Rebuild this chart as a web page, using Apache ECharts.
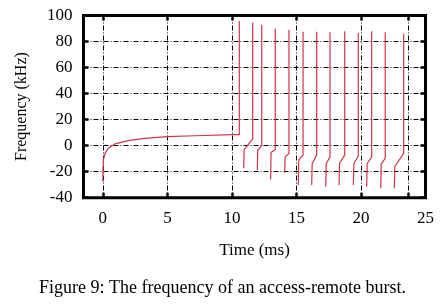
<!DOCTYPE html>
<html>
<head>
<meta charset="utf-8">
<script src="https://cdn.jsdelivr.net/npm/echarts@6/dist/echarts.min.js"></script>
<style>
  html, body { margin: 0; padding: 0; background: #fff; }
  #chart { width: 445px; height: 305px; }
</style>
</head>
<body>
<div id="chart"></div>
<script>
// initial ramp before the burst starts
const rampTime = [0, 0.01, 0.04, 0.17, 0.42, 0.94, 1.97, 3.26, 4.99, 7.14, 10.11, 10.57];
const rampFreq = [-27.7, -18.7, -11, -5.9, -2, 1.3, 3.8, 5.6, 6.9, 7.6, 8.4, 8.5];

// spikes of the burst
const spikeTime = [10.57, 11.61, 12.31, 13.36, 14.42, 15.51, 16.57, 17.6, 18.74, 19.79, 20.83, 21.88, 23.31];
const spikeBase = [8.5, 5.2, 0, -3, -6, -7.3, -7.3, -8.6, -7.3, -8, -8.6, -9.8, -6];
const spikePeak = [95.8, 94.5, 92.9, 89.9, 88.9, 87.6, 87.6, 87.1, 87.9, 86.6, 87.9, 87.1, 86];

// where each segment restarts after a spike, and where it bends
const resetTime = [10.91, 11.97, 13.0, 14.09, 15.14, 16.18, 17.27, 18.3, 19.41, 20.44, 21.53, 22.58];
const resetFreq = [-17.4, -18.7, -25.9, -20.8, -30.2, -30.2, -31.5, -30.2, -30.2, -31.5, -32.8, -32.8];
const kneeTime = [10.95, 12.0, 13.03, 14.12, 15.18, 16.22, 17.31, 18.34, 19.45, 20.48, 21.57, 22.62];
const kneeFreq = [-3, -3.5, -5.3, -8.6, -11, -13.7, -13.7, -13.5, -13.7, -13.7, -14, -16];

const xTicks = [0, 5, 10, 15, 20, 23.7, 25];
const xLabels = [0, 5, 10, 15, 20, 25];

let data = rampTime.map((t, i) => [t, rampFreq[i]]);
spikeTime.forEach((t, i) => {
  if (i > 0) data.push([t, spikeBase[i]]);
  data.push([t, spikePeak[i]]);
  data.push([t, '-']);
  if (i < resetTime.length) {
    data.push([resetTime[i], resetFreq[i]]);
    data.push([kneeTime[i], kneeFreq[i]]);
  }
});

const font = 'Liberation Serif';
const gridDash = { color: '#000', width: 1, type: [5, 2, 1, 2] };
const tick = { show: true, inside: true, length: 5, lineStyle: { color: '#000', width: 2.5 } };
const noLine = { show: false, onZero: false };

let myChart = echarts.init(document.getElementById('chart'));
myChart.setOption({
  animation: false,
  backgroundColor: '#fff',
  grid: {
    left: 83.5, top: 15.5, right: 19.5, bottom: 107.3,
    show: true, borderColor: '#000', borderWidth: 3
  },
  xAxis: [
    {
      type: 'value', min: -1.5, max: 25,
      name: 'Time (ms)', nameLocation: 'middle', nameGap: 44,
      nameTextStyle: { fontFamily: font, fontSize: 17, color: '#000' },
      axisLine: noLine,
      axisTick: Object.assign({ customValues: xTicks }, tick),
      axisLabel: { customValues: xLabels, fontFamily: font, fontSize: 17, color: '#000', margin: 12 },
      splitLine: { show: true, lineStyle: gridDash }
    },
    {
      type: 'value', min: -1.5, max: 25, position: 'top',
      axisLine: noLine,
      axisTick: Object.assign({ customValues: xTicks }, tick),
      axisLabel: { show: false },
      splitLine: { show: false }
    }
  ],
  yAxis: [
    {
      type: 'value', min: -40, max: 100, interval: 20,
      name: 'Frequency (kHz)', nameLocation: 'middle', nameGap: 54,
      nameTextStyle: { fontFamily: font, fontSize: 16, color: '#000' },
      axisLine: noLine,
      axisTick: tick,
      axisLabel: { fontFamily: font, fontSize: 17, color: '#000', margin: 11 },
      splitLine: { show: true, lineStyle: gridDash }
    },
    {
      type: 'value', min: -40, max: 100, interval: 20, position: 'right',
      axisLine: noLine,
      axisTick: tick,
      axisLabel: { show: false },
      splitLine: { show: false }
    }
  ],
  graphic: [
    {
      type: 'text', left: 'center', top: 279,
      style: {
        text: 'Figure 9: The frequency of an access-remote burst.',
        fontFamily: font, fontSize: 18, fill: '#000'
      }
    }
  ],
  series: [
    {
      type: 'line',
      data,
      showSymbol: false,
      connectNulls: false,
      lineStyle: { color: '#d03444', width: 1.2 },
      itemStyle: { color: '#d03444' },
      z: 3
    }
  ]
});
</script>
</body>
</html>
